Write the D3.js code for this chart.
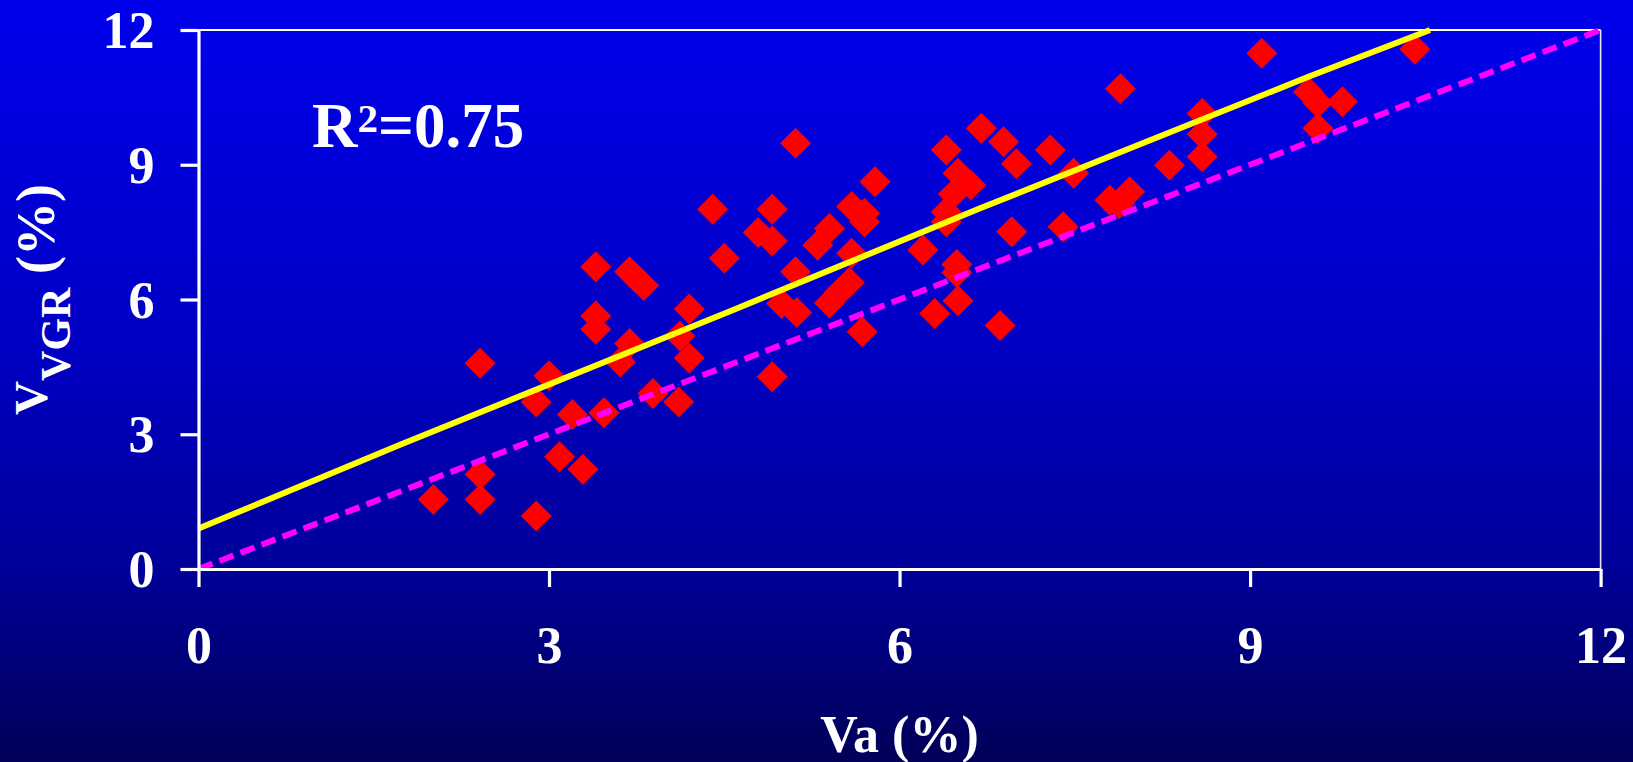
<!DOCTYPE html>
<html>
<head>
<meta charset="utf-8">
<script src="https://cdn.jsdelivr.net/npm/d3@7"></script>
<style>
  html, body { margin: 0; padding: 0; background: #000080; }
  svg { display: block; }
  text { font-family: "Liberation Serif", "Times New Roman", serif; font-weight: bold; fill: #ffffff; }
</style>
</head>
<body>
<svg id="chart" width="1633" height="762"></svg>
<script>
// ---- data ----
const vaValues = [2.01,2.41,2.41,2.41,2.89,2.89,3.00,3.09,3.20,3.29,3.40,3.40,3.40,3.47,3.61,3.69,3.69,3.75,3.81,3.89,
  4.11,4.12,4.20,4.20,4.40,4.50,4.79,4.91,4.91,4.91,4.99,5.11,5.11,5.12,5.30,5.40,5.40,5.48,5.57,5.59,
  5.59,5.70,5.70,5.68,5.79,6.20,6.30,6.40,6.40,6.40,6.46,6.50,6.61,6.49,6.49,6.50,6.70,6.86,6.89,6.96,
  7.00,7.29,7.40,7.49,7.80,7.88,7.89,7.97,8.31,8.59,8.59,8.59,9.10,9.50,9.58,9.79,9.58,10.41];
const vgrValues = [1.55,1.55,2.11,4.58,1.18,3.72,4.30,2.50,3.44,2.22,6.73,5.63,5.34,3.48,4.61,5.02,6.62,6.46,6.31,3.91,
  3.72,5.19,4.70,5.79,8.01,6.92,7.49,8.01,7.30,4.28,5.91,9.48,6.62,5.71,7.21,7.58,5.92,6.15,6.38,8.07,
  7.03,7.92,7.73,5.28,8.62,7.10,5.69,9.33,7.73,7.95,8.35,8.81,8.55,6.78,6.60,5.97,9.81,5.42,9.51,7.51,
  9.02,9.33,7.62,8.81,8.21,8.13,10.69,8.40,8.99,10.14,9.68,9.18,11.48,10.62,10.38,10.40,9.81,11.57];
const fitX = [0, 1.72, 4.55, 6.69, 9.51, 10.54];
const fitY = [0.90, 2.76, 5.74, 8.03, 10.97, 12.0];
const identityX = [0, 12];
const identityY = [0, 12];
const xTicks = [0, 3, 6, 9, 12];
const yTicks = [0, 3, 6, 9, 12];
const xTitle = "Va (%)";
const yTitleMain = "V";
const yTitleSub = "VGR";
const yTitleTail = " (%)";
const r2Label = { base: "R", sup: "2", rest: "=0.75" };

// ---- layout ----
const W = 1633, H = 762;
const mLeft = 198.5, mRight = 1600.6, mTop = 30, mBottom = 569;
const svg = d3.select("#chart");

const defs = svg.append("defs");
const grad = defs.append("linearGradient").attr("id", "bg").attr("x1", 0).attr("y1", 0).attr("x2", 0).attr("y2", 1);
[[0, "#0000ec"], [0.45, "#0000c4"], [0.75, "#000098"], [1, "#000058"]].forEach(([o, c]) =>
  grad.append("stop").attr("offset", o).attr("stop-color", c));
svg.append("rect").attr("width", W).attr("height", H).attr("fill", "url(#bg)");

const x = d3.scaleLinear().domain([0, 12]).range([mLeft, mRight]);
const y = d3.scaleLinear().domain([0, 12]).range([mBottom, mTop]);

// frame (top and right)
svg.append("line").attr("x1", x(0)).attr("x2", x(12)).attr("y1", y(12)).attr("y2", y(12))
  .attr("stroke", "#ffffff").attr("stroke-width", 2);
svg.append("line").attr("x1", x(12)).attr("x2", x(12)).attr("y1", y(12)).attr("y2", y(0))
  .attr("stroke", "#e8e8f0").attr("stroke-width", 1.6);

// points
const pts = vaValues.map((v, i) => [v, vgrValues[i]]);
const half = 15.5;
svg.append("g").selectAll("path").data(pts).join("path")
  .attr("d", d => {
    const cx = x(d[0]), cy = y(d[1]);
    return `M${cx},${cy - half}L${cx + half},${cy}L${cx},${cy + half}L${cx - half},${cy}Z`;
  })
  .attr("fill", "#ff0000");

// lines
const line = d3.line().x(d => x(d[0])).y(d => y(d[1]));
svg.append("path").datum(identityX.map((v, i) => [v, identityY[i]]))
  .attr("d", line).attr("fill", "none").attr("stroke", "#ff00ff")
  .attr("stroke-width", 6).attr("stroke-dasharray", "15,7.5");
svg.append("path").datum(fitX.map((v, i) => [v, fitY[i]]))
  .attr("d", line).attr("fill", "none").attr("stroke", "#ffff00")
  .attr("stroke-width", 6);

// axes
const xAxis = svg.append("g").attr("transform", `translate(0,${y(0)})`)
  .call(d3.axisBottom(x).tickValues(xTicks).tickSize(18).tickSizeOuter(0).tickFormat(d3.format("d")));
const yAxis = svg.append("g").attr("transform", `translate(${x(0)},0)`)
  .call(d3.axisLeft(y).tickValues(yTicks).tickSize(18).tickSizeOuter(0).tickPadding(26).tickFormat(d3.format("d")));
[xAxis, yAxis].forEach(g => {
  g.select(".domain").attr("stroke", "#ffffff").attr("stroke-width", 3.2);
  g.selectAll(".tick line").attr("stroke", "#ffffff").attr("stroke-width", 3.2);
  g.selectAll(".tick text").attr("fill", "#ffffff")
    .style("font-family", '"Liberation Serif", "Times New Roman", serif')
    .style("font-weight", "bold").style("font-size", "52px");
});
xAxis.selectAll(".tick text").attr("y", 94).attr("dy", null);
yAxis.selectAll(".tick text").attr("dy", "0.34em");

// x title
svg.append("text").attr("x", (mLeft + mRight) / 2).attr("y", 752)
  .attr("text-anchor", "middle").style("font-size", "52px").text(xTitle);

// y title (rotated)
const yt = svg.append("text").attr("transform", `translate(47,${(mTop + mBottom) / 2}) rotate(-90)`)
  .attr("text-anchor", "middle").style("font-size", "47px");
yt.append("tspan").text(yTitleMain);
yt.append("tspan").style("font-size", "42px").attr("dy", 23).text(yTitleSub);
yt.append("tspan").style("font-size", "54px").attr("dy", -16).text(yTitleTail);

// R^2 annotation
const r2 = svg.append("text").attr("x", 312).attr("y", 147).style("font-size", "63px");
r2.append("tspan").text(r2Label.base);
r2.append("tspan").style("font-size", "41px").attr("dy", -15).text(r2Label.sup);
r2.append("tspan").attr("dy", 15).text(r2Label.rest);
</script>
</body>
</html>
